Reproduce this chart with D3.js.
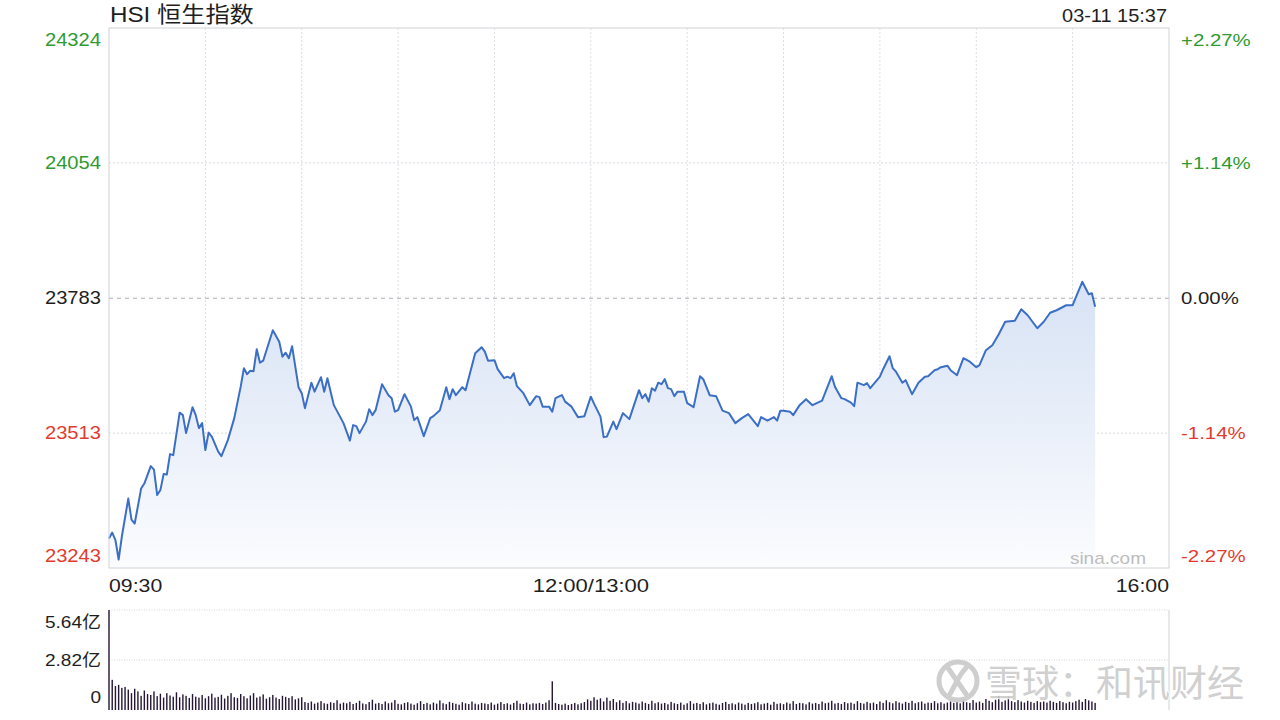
<!DOCTYPE html>
<html>
<head>
<meta charset="utf-8">
<script src="https://cdnjs.cloudflare.com/ajax/libs/d3/7.8.5/d3.min.js"></script>
<style>
  body { margin: 0; background: #fff; }
  svg { display: block; font-family: "Liberation Sans", Arial, "Noto Sans CJK SC", sans-serif; }
</style>
</head>
<body>
<div class="canvas"></div>
<script>
// ---- data ----
const preClose = 23783;
const priceTicks = [24324, 24054, 23783, 23513, 23243];
const pctTicks = ['+2.27%', '+1.14%', '0.00%', '-1.14%', '-2.27%'];
const timeTicks = ['09:30', '12:00/13:00', '16:00'];
const volTicks = ['5.64亿', '2.82亿', '0'];
const volTickValues = [5.64, 2.82, 0];

const times = [
  '09:30','09:31','09:32','09:33','09:34','09:36','09:37','09:38','09:40','09:41',
  '09:43','09:44','09:45','09:46','09:47','09:48','09:49','09:50','09:52','09:53',
  '09:54','09:56','09:57','09:58','09:59','10:00','10:01','10:02','10:04','10:05',
  '10:07','10:09','10:11','10:12','10:13','10:14','10:15','10:16','10:17','10:18',
  '10:21','10:23','10:24','10:25','10:26','10:27','10:29','10:30','10:31','10:33',
  '10:34','10:36','10:37','10:38','10:40','10:43','10:45','10:46','10:47','10:48',
  '10:50','10:51','10:52','10:53','10:55','10:57','10:58','10:59','11:00','11:02',
  '11:04','11:05','11:06','11:08','11:10','11:11','11:13','11:15','11:16','11:17',
  '11:18','11:20','11:21','11:24','11:26','11:27','11:28','11:30','11:31','11:33',
  '11:34','11:35','11:36','11:37','11:39','11:41','11:43','11:44','11:45','11:47',
  '11:48','11:49','11:51','11:52','11:54','11:56','11:58','12:00',
  '13:01','13:03','13:04','13:05','13:07','13:08','13:10','13:12','13:15','13:16',
  '13:17','13:18','13:19','13:20','13:21','13:22','13:23','13:24','13:25','13:26',
  '13:27','13:29','13:30','13:32','13:34','13:35','13:37','13:39','13:41','13:43',
  '13:45','13:47','13:49','13:52','13:53','13:55','13:57','13:58','13:59','14:00',
  '14:02','14:03','14:05','14:07','14:09','14:12','14:15','14:16','14:18','14:19',
  '14:21','14:22','14:23','14:25','14:26','14:27','14:30','14:31','14:33','14:34',
  '14:35','14:37','14:38','14:40','14:42','14:44','14:45','14:47','14:48','14:49',
  '14:51','14:52','14:54','14:56','14:58','15:00','15:01','15:03','15:05','15:07',
  '15:09','15:12','15:14','15:16','15:19','15:21','15:23','15:25','15:28','15:30',
  '15:33','15:35','15:36','15:37'
];

const prices = [
  23302,23314,23299,23260,23306,23382,23340,23332,23402,23412,
  23447,23440,23389,23399,23431,23430,23471,23469,23554,23549,
  23513,23565,23549,23523,23533,23479,23514,23506,23476,23467,
  23499,23543,23606,23643,23631,23638,23637,23681,23654,23658,
  23719,23696,23666,23674,23663,23687,23605,23593,23563,23614,
  23596,23625,23596,23623,23569,23533,23498,23529,23527,23513,
  23536,23561,23549,23559,23611,23589,23583,23556,23559,23591,
  23566,23539,23545,23507,23543,23547,23559,23605,23581,23601,
  23589,23605,23599,23673,23685,23676,23658,23659,23641,23623,
  23626,23623,23633,23607,23593,23569,23587,23585,23566,23566,
  23556,23583,23589,23576,23566,23545,23547,23586,
  23572,23546,23505,23506,23536,23521,23553,23541,23599,23583,
  23591,23576,23603,23598,23614,23611,23621,23603,23601,23587,
  23596,23596,23573,23565,23627,23621,23589,23587,23558,23553,
  23533,23543,23551,23527,23545,23538,23545,23538,23558,23558,
  23556,23549,23569,23581,23569,23578,23627,23606,23583,23581,
  23574,23567,23614,23609,23613,23603,23626,23641,23667,23643,
  23636,23614,23619,23591,23614,23626,23627,23639,23641,23645,
  23648,23639,23629,23663,23656,23645,23649,23679,23689,23711,
  23736,23738,23761,23749,23723,23736,23754,23759,23769,23769,
  23816,23791,23793,23766
];

// volume per trading minute (亿), minute 0 = 09:30
const volumes = [
  5.64,1.70,1.35,1.42,1.25,1.30,1.15,0.95,1.20,1.05,
  0.80,1.10,0.90,0.85,1.05,0.78,0.92,0.70,0.95,0.82,
  0.75,1.00,0.72,0.88,0.80,0.68,0.90,0.75,0.70,0.85,
  0.66,0.78,0.92,0.70,0.74,0.86,0.65,0.80,0.95,0.72,
  0.68,0.90,0.78,0.66,0.82,0.95,0.70,0.76,0.88,0.64,
  0.72,0.85,0.70,0.62,0.80,0.74,0.68,0.78,0.60,0.66,
  0.72,0.45,0.40,0.48,0.36,0.42,0.50,0.38,0.35,0.44,
  0.40,0.55,0.36,0.42,0.38,0.46,0.34,0.40,0.52,0.37,
  0.33,0.45,0.58,0.36,0.40,0.34,0.48,0.38,0.42,0.56,
  0.35,0.32,0.40,0.44,0.36,0.30,0.38,0.50,0.34,0.40,
  0.32,0.42,0.36,0.54,0.38,0.33,0.46,0.40,0.35,0.30,
  0.44,0.38,0.34,0.48,0.36,0.32,0.40,0.37,0.33,0.42,
  0.30,0.36,0.45,0.34,0.38,0.31,0.40,0.52,0.36,0.34,
  0.42,0.32,0.38,0.36,0.40,0.34,0.42,0.55,1.62,0.40,
  0.34,0.30,0.36,0.28,0.34,0.40,0.32,0.38,0.45,0.60,
  0.52,0.72,0.58,0.66,0.48,0.70,0.52,0.62,0.44,0.55,
  0.40,0.50,0.38,0.46,0.42,0.36,0.48,0.40,0.34,0.52,
  0.38,0.44,0.36,0.40,0.32,0.46,0.38,0.34,0.42,0.30,
  0.38,0.50,0.36,0.40,0.34,0.44,0.32,0.38,0.42,0.35,
  0.30,0.40,0.46,0.34,0.38,0.32,0.42,0.36,0.30,0.40,
  0.34,0.38,0.44,0.32,0.36,0.40,0.30,0.46,0.35,0.38,
  0.33,0.42,0.36,0.50,0.34,0.40,0.38,0.32,0.44,0.36,
  0.40,0.34,0.48,0.38,0.42,0.52,0.36,0.40,0.34,0.45,
  0.38,0.42,0.35,0.50,0.40,0.36,0.46,0.38,0.42,0.34,
  0.48,0.40,0.55,0.44,0.38,0.50,0.42,0.36,0.46,0.40,
  0.52,0.38,0.44,0.48,0.36,0.42,0.40,0.50,0.38,0.44,
  0.36,0.42,0.48,0.40,0.46,0.38,0.52,0.44,0.40,0.56,
  0.42,0.48,0.40,0.62,0.52,0.44,0.58,0.82,0.46,0.54,
  0.75,0.50,0.44,0.56,0.48,0.42,0.52,0.46,0.40,0.50,
  0.44,0.48,0.42,0.52,0.46,0.40,0.50,0.44,0.38,0.46,
  0.42,0.50,0.58,0.46,0.62,0.54,0.48,0.40
];

// ---- layout ----
const dims = {width: 1280, height: 720};
const plot = {left: 109, right: 1169, top: 28, bottom: 568};
const vol = {top: 610, bottom: 710};

const green = '#2f9a2f', red = '#e23b2e', dark = '#1e1e1e';

// trading minutes since 09:30, lunch break removed
const tradeMin = t => {
  const [h, m] = t.split(':').map(Number);
  const mm = h * 60 + m;
  return mm <= 720 ? mm - 570 : mm - 780 + 150;
};

const x = d3.scaleLinear().domain([0, 330]).range([plot.left, plot.right]);
const y = d3.scaleLinear().domain([23243, 24324]).range([plot.bottom, plot.top]);
const yv = d3.scaleLinear().domain([0, 5.64]).range([vol.bottom, vol.top]);

const data = times.map((t, i) => ({m: tradeMin(t), v: prices[i]}));

const svg = d3.select('.canvas')
  .append('svg')
  .attr('width', dims.width)
  .attr('height', dims.height);

const defs = svg.append('defs');
const grad = defs.append('linearGradient')
  .attr('id', 'areaFill')
  .attr('gradientUnits', 'userSpaceOnUse')
  .attr('x1', 0).attr('x2', 0)
  .attr('y1', 290).attr('y2', plot.bottom);
grad.append('stop').attr('offset', '0%').attr('stop-color', '#d8e3f5');
grad.append('stop').attr('offset', '100%').attr('stop-color', '#fbfcfe');

// stretched text helper
const label = (g, px, py, str, o) => g.append('text')
  .attr('transform', `translate(${px},${py}) scale(${o.sx || 1},1)`)
  .attr('text-anchor', o.anchor || 'start')
  .attr('dominant-baseline', 'central')
  .attr('font-size', o.size)
  .attr('fill', o.fill || dark)
  .text(str);

// ---- grid ----
const grid = svg.append('g');
const vTicks = d3.range(1, 11).map(i => i * 30);
grid.selectAll('line.vg')
  .data(vTicks)
  .enter().append('line')
  .attr('x1', d => x(d)).attr('x2', d => x(d))
  .attr('y1', plot.top).attr('y2', plot.bottom)
  .attr('stroke', '#dcdfe3')
  .attr('stroke-dasharray', '2,2');

grid.selectAll('line.hg')
  .data(priceTicks.slice(1, 4))
  .enter().append('line')
  .attr('x1', plot.left).attr('x2', plot.right)
  .attr('y1', d => y(d)).attr('y2', d => y(d))
  .attr('stroke', d => d === preClose ? '#a9adb3' : '#d6d9de')
  .attr('stroke-dasharray', d => d === preClose ? '4,4' : '2,2');

// ---- area + line ----
const area = d3.area()
  .x(d => x(d.m))
  .y0(plot.bottom)
  .y1(d => y(d.v));
const line = d3.line()
  .x(d => x(d.m))
  .y(d => y(d.v));

svg.append('path')
  .datum(data)
  .attr('d', area)
  .attr('fill', 'url(#areaFill)');

svg.append('path')
  .datum(data)
  .attr('d', line)
  .attr('fill', 'none')
  .attr('stroke', '#3b6fc6')
  .attr('stroke-width', 2)
  .attr('stroke-linejoin', 'round');

// plot frame
svg.append('rect')
  .attr('x', plot.left).attr('y', plot.top)
  .attr('width', plot.right - plot.left)
  .attr('height', plot.bottom - plot.top)
  .attr('fill', 'none')
  .attr('stroke', '#cfd2d6');

// ---- labels ----
const labels = svg.append('g');
const priceColor = v => v > preClose ? green : v < preClose ? red : dark;
const labelY = (v, i) => i === 0 ? y(v) + 12 : i === priceTicks.length - 1 ? y(v) - 12 : y(v);

priceTicks.forEach((v, i) => {
  label(labels, 101, labelY(v, i), v, {size: 18, anchor: 'end', fill: priceColor(v), sx: 1.12});
  label(labels, 1181, labelY(v, i), pctTicks[i], {size: 17, fill: priceColor(v), sx: 1.2});
});

label(labels, 110, 14, 'HSI 恒生指数', {size: 22, sx: 1.1});
label(labels, 1167, 15, '03-11 15:37', {size: 19, anchor: 'end', sx: 1.05});

label(labels, x(0), 585, timeTicks[0], {size: 19, sx: 1.12});
label(labels, x(150), 585, timeTicks[1], {size: 19, anchor: 'middle', sx: 1.16});
label(labels, x(330), 585, timeTicks[2], {size: 19, anchor: 'end', sx: 1.12});

label(labels, 1146, 558, 'sina.com', {size: 17, anchor: 'end', fill: '#bdbdbd', sx: 1.12});

// ---- volume ----
const vg = svg.append('g');
vg.selectAll('line.vgrid')
  .data(volTickValues.slice(0, 2))
  .enter().append('line')
  .attr('x1', plot.left).attr('x2', plot.right)
  .attr('y1', d => yv(d)).attr('y2', d => yv(d))
  .attr('stroke', '#d3d5d9')
  .attr('stroke-dasharray', '1,1.5');

vg.append('line')
  .attr('x1', plot.right).attr('x2', plot.right)
  .attr('y1', vol.top).attr('y2', vol.bottom)
  .attr('stroke', '#cfd2d6');

vg.selectAll('rect.bar')
  .data(volumes)
  .enter().append('rect')
  .attr('x', (d, i) => x(i) - 0.7)
  .attr('y', d => yv(d))
  .attr('width', 1.4)
  .attr('height', d => vol.bottom - yv(d))
  .attr('fill', '#241634');

volTickValues.forEach((v, i) => {
  const py = i === 0 ? yv(v) + 12 : i === 2 ? yv(v) - 13 : yv(v);
  label(vg, 101, py, volTicks[i], {size: 17, anchor: 'end', sx: 1.12});
});

// ---- watermark ----
const wm = svg.append('g').attr('opacity', 0.9);
wm.append('circle')
  .attr('cx', 958).attr('cy', 681).attr('r', 19)
  .attr('fill', 'none')
  .attr('stroke', '#c9c9c9')
  .attr('stroke-width', 5);
wm.append('path')
  .attr('d', 'M948,668 L966,694 M966,668 C958,676 956,684 950,694')
  .attr('fill', 'none')
  .attr('stroke', '#c9c9c9')
  .attr('stroke-width', 5)
  .attr('stroke-linecap', 'round');
wm.append('text')
  .attr('x', 985).attr('y', 681)
  .attr('dominant-baseline', 'central')
  .attr('font-family', '"Noto Sans CJK SC", sans-serif')
  .attr('font-size', 37)
  .attr('fill', '#cbcbcb')
  .attr('stroke', '#ffffff')
  .attr('stroke-width', 2)
  .attr('paint-order', 'stroke')
  .text('雪球：和讯财经');
</script>
</body>
</html>
